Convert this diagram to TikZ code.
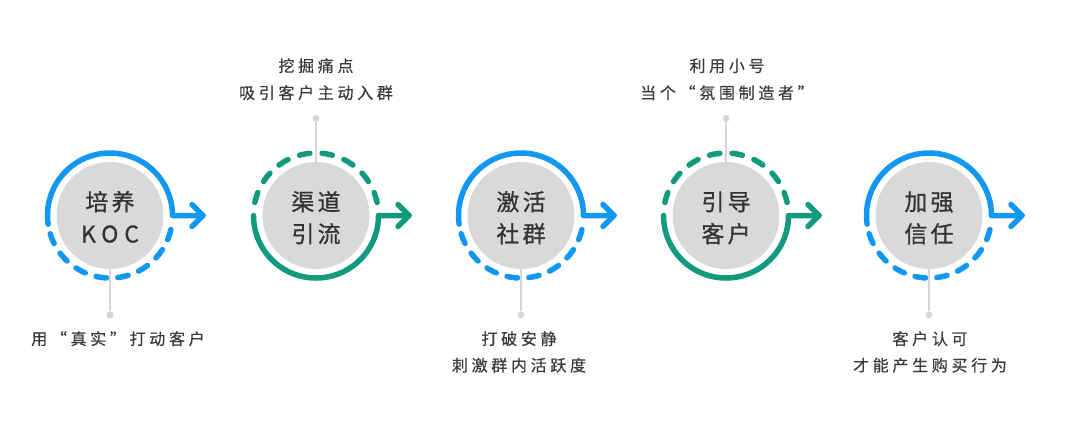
\documentclass[tikz,border=0pt]{standalone}
\usepackage{fontspec}
\newfontfamily\cjkin[LetterSpace=14,FakeBold=0.8]{Noto Sans CJK SC}
\newfontfamily\cjkinwide[LetterSpace=26,FakeBold=0.8]{Noto Sans CJK SC}
\newfontfamily\cjklab[LetterSpace=23,FakeBold=0.4]{Noto Sans CJK SC}
\usetikzlibrary{calc}
\definecolor{cblue}{HTML}{1297F2}
\definecolor{cgreen}{HTML}{129A7E}
\definecolor{cdisc}{HTML}{D9D9D9}
\definecolor{cgline}{HTML}{D6D6D6}
\definecolor{cintext}{HTML}{333333}
\definecolor{clabtext}{HTML}{3A3A3A}
\newcommand\bluering[1]{%
  \coordinate (#1tip) at ($(#1.center)+(93,0)$);
  \draw[ringline,cblue] ($(#1.center)+(188:62.5)$) arc[start angle=188,end angle=0,radius=62.5] -- (#1tip);
  \draw[ringline,cblue] ($(#1tip)+(-11,11)$) -- (#1tip) -- ($(#1tip)+(-11,-11)$);
  \draw[bluedash] ($(#1.center)+(197:62.5)$) arc[start angle=197,end angle=347,radius=62.5];
}
\newcommand\greenring[1]{%
  \coordinate (#1tip) at ($(#1.center)+(93,0)$);
  \draw[ringline,cgreen] ($(#1.center)+(180:62.5)$) arc[start angle=180,end angle=360,radius=62.5] -- (#1tip);
  \draw[ringline,cgreen] ($(#1tip)+(-11,11)$) -- (#1tip) -- ($(#1tip)+(-11,-11)$);
  \draw[greendash] ($(#1.center)+(168:62.5)$) arc[start angle=168,end angle=12,radius=62.5];
}
\begin{document}
\begin{tikzpicture}[x=1pt,y=1pt,
  disc/.style={circle, fill=cdisc, minimum size=107pt, inner sep=0pt},
  intext/.style={anchor=base, text=cintext, font=\cjkin\fontsize{23}{28}\selectfont, inner sep=0pt},
  labtext/.style={anchor=base, text=clabtext, font=\cjklab\fontsize{16}{20}\selectfont, inner sep=0pt},
  ringline/.style={line width=5.5pt, line cap=round, line join=round},
  bluedash/.style={ringline, cblue, dash pattern=on 10.5pt off 11.37pt},
  greendash/.style={ringline, cgreen, dash pattern=on 10.5pt off 12.3pt},
  gline/.style={draw=cgline, line width=2.5pt},
  gdot/.style={circle, fill=cgline, minimum size=7pt, inner sep=0pt}]
\fill[white] (0,0) rectangle (1080,-424);
\useasboundingbox (0,0) rectangle (1080,-424);

% circle 1
\node[disc] (c1) at (110,-215.5) {};
\bluering{c1}
\node[intext] (c1a) at (110,-210.5) {培养};
\node[intext, font=\cjkinwide\fontsize{23}{28}\selectfont] (c1b) at (110,-242.5) {KOC};
\node[gdot] (d1) at (110,-315) {};
\draw[gline] (c1.south) -- (d1);
\node[labtext] (l1a) at (118,-344.8) {用“真实”打动客户};

% circle 2
\node[disc] (c2) at (316,-215.5) {};
\greenring{c2}
\node[intext] (c2a) at (316,-210.5) {渠道};
\node[intext] (c2b) at (316,-242.5) {引流};
\node[gdot] (d2) at (316,-118.5) {};
\draw[gline] (c2.north) -- (d2);
\node[labtext] (l2a) at (316,-71.8) {挖掘痛点};
\node[labtext] (l2b) at (316,-98.8) {吸引客户主动入群};

% circle 3
\node[disc] (c3) at (521,-215.5) {};
\bluering{c3}
\node[intext] (c3a) at (521,-210.5) {激活};
\node[intext] (c3b) at (521,-242.5) {社群};
\node[gdot] (d3) at (521,-315) {};
\draw[gline] (c3.south) -- (d3);
\node[labtext] (l3a) at (519,-344.8) {打破安静};
\node[labtext] (l3b) at (519,-371.3) {刺激群内活跃度};

% circle 4
\node[disc] (c4) at (726,-215.5) {};
\greenring{c4}
\node[intext] (c4a) at (726,-210.5) {引导};
\node[intext] (c4b) at (726,-242.5) {客户};
\node[gdot] (d4) at (726,-118.5) {};
\draw[gline] (c4.north) -- (d4);
\node[labtext] (l4a) at (727,-71.8) {利用小号};
\node[labtext] (l4b) at (727,-98.8) {当个“氛围制造者”};

% circle 5
\node[disc] (c5) at (929,-215.5) {};
\bluering{c5}
\node[intext] (c5a) at (929,-210.5) {加强};
\node[intext] (c5b) at (929,-242.5) {信任};
\node[gdot] (d5) at (929,-315) {};
\draw[gline] (c5.south) -- (d5);
\node[labtext] (l5a) at (930,-344.8) {客户认可};
\node[labtext] (l5b) at (930,-371.3) {才能产生购买行为};
\end{tikzpicture}
\end{document}
